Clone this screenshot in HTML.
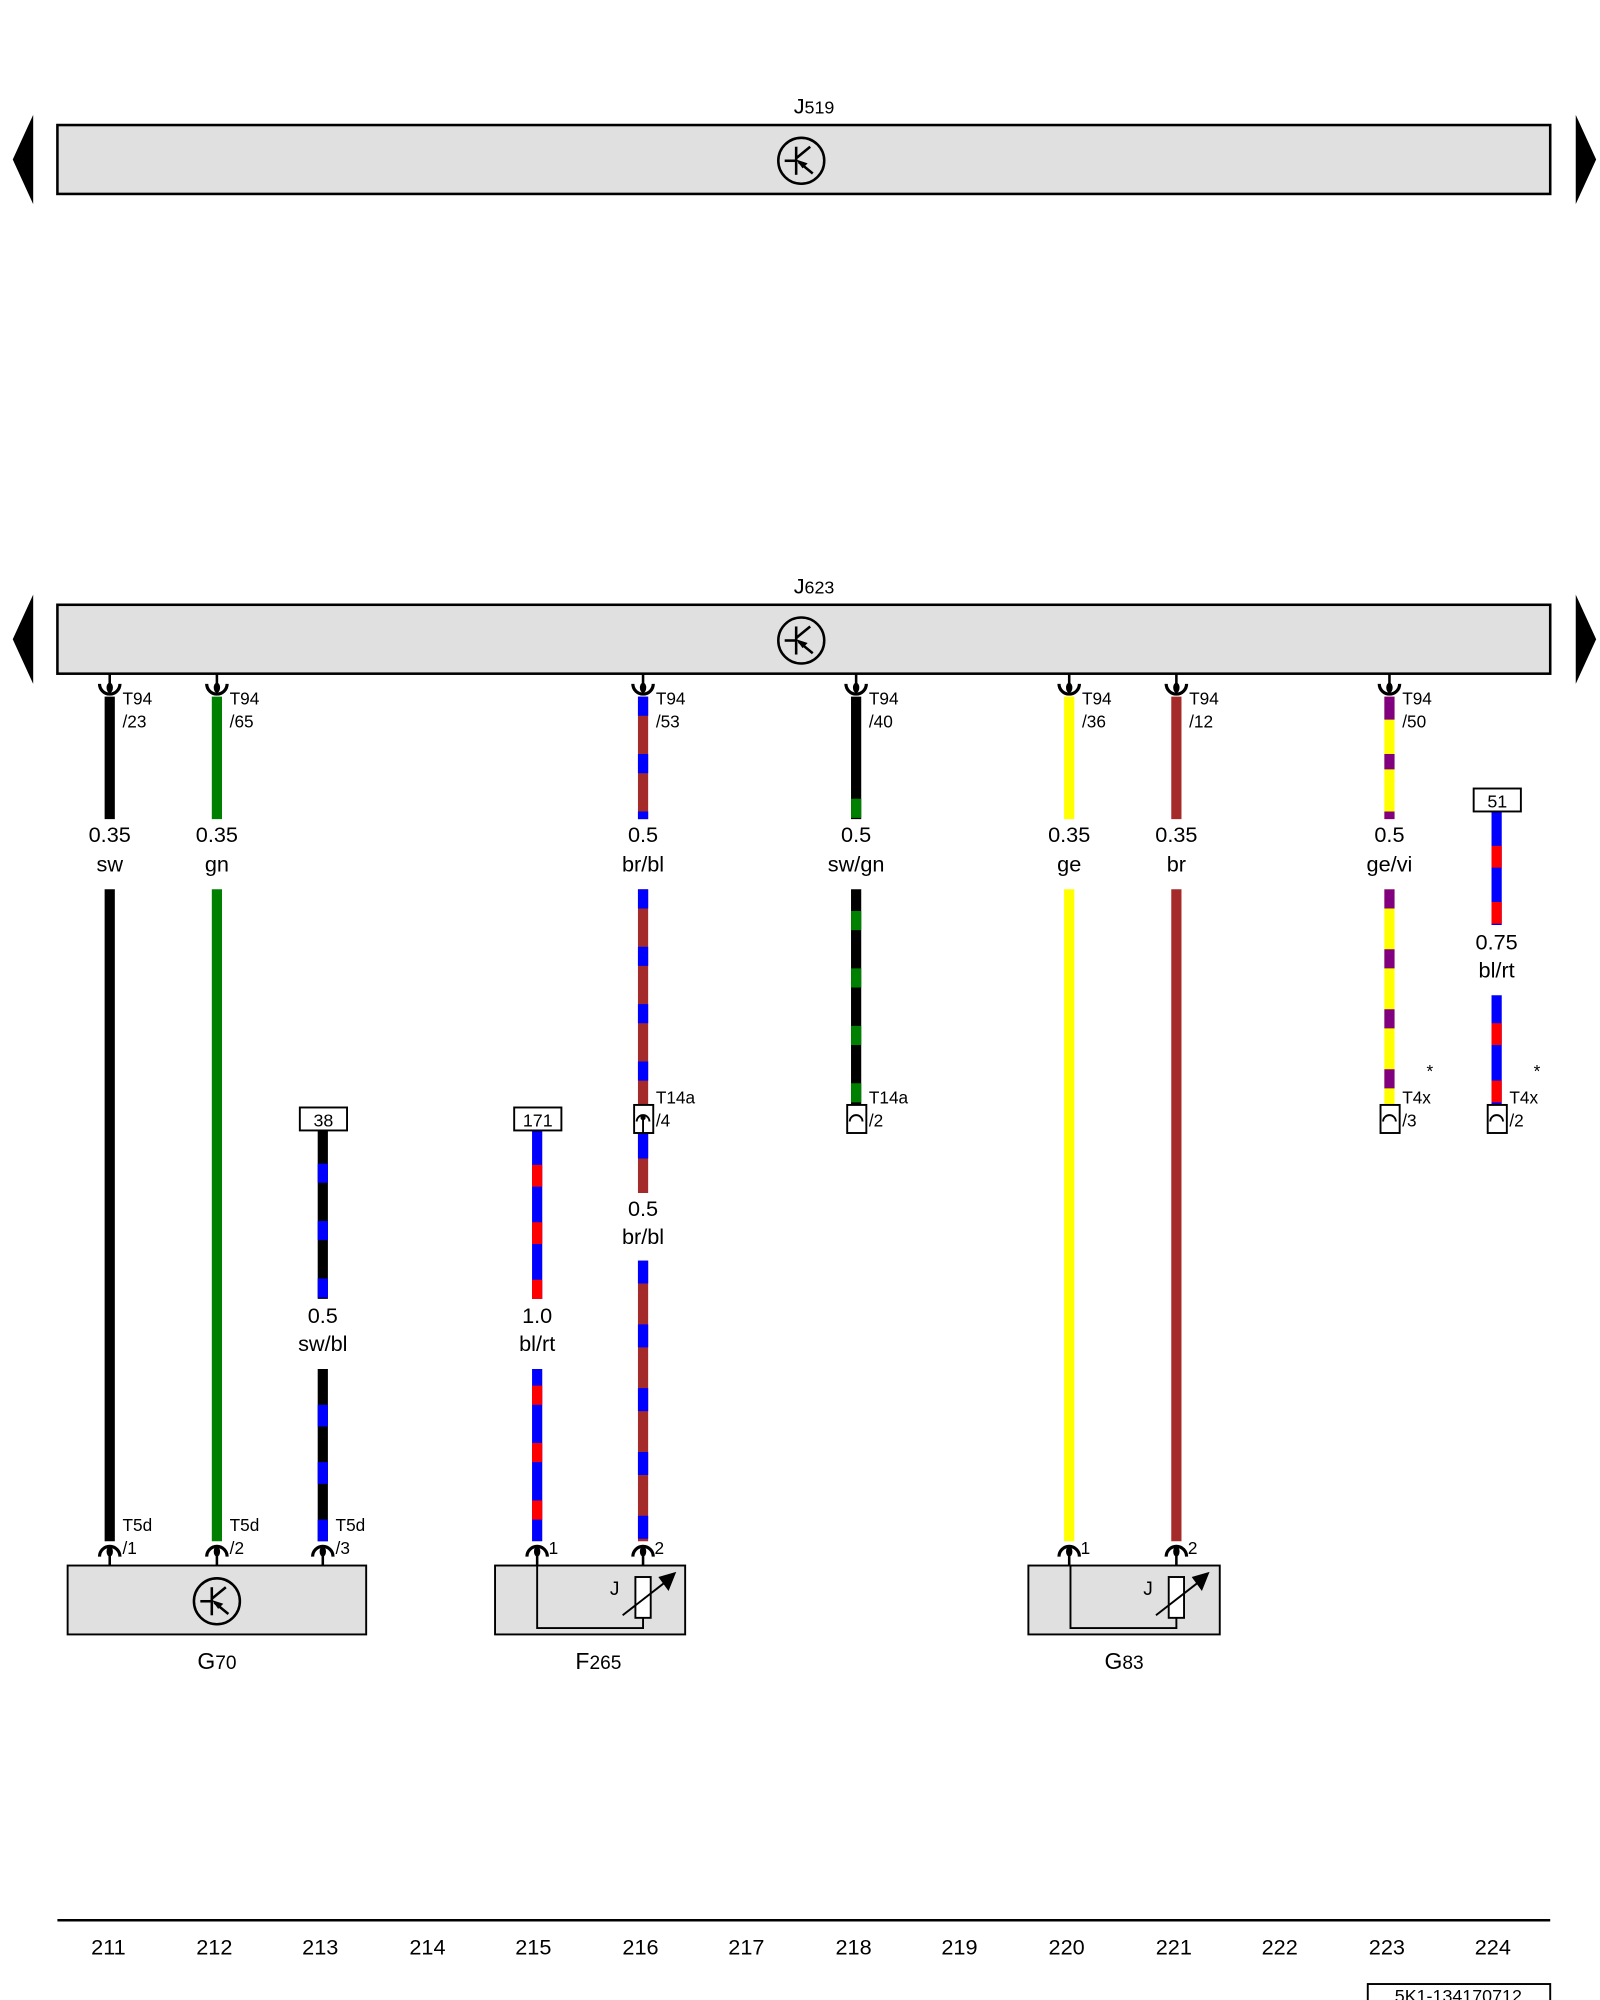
<!DOCTYPE html>
<html><head><meta charset="utf-8"><style>
html,body{margin:0;padding:0;background:#fff;}
svg{display:block;}
text{font-family:"Liberation Sans",sans-serif;fill:#000;}
.c{font-size:13.5px;font-stretch:condensed;}
.w{font-size:17px;text-anchor:middle;}
</style></head><body>
<svg width="1600" height="2000" viewBox="0 0 1600 2000" xmlns="http://www.w3.org/2000/svg">
<defs>
<g id="sym">
<circle cx="0" cy="0" r="18" fill="none" stroke="#000" stroke-width="2"/>
<line x1="-4" y1="-11" x2="-4" y2="11" stroke="#000" stroke-width="2"/>
<line x1="-13" y1="0" x2="-4" y2="0" stroke="#000" stroke-width="2"/>
<line x1="-4" y1="-2" x2="7" y2="-11" stroke="#000" stroke-width="2"/>
<line x1="-2" y1="1" x2="9" y2="10" stroke="#000" stroke-width="2"/>
<polygon points="-4,-1 5,2 1,6" fill="#000"/>
</g>
<g id="ct"><line x1="0" y1="528" x2="0" y2="537" stroke="#000" stroke-width="2"/><ellipse cx="0" cy="539" rx="2.5" ry="4" fill="#000"/><path d="M-8,536 A8,8 0 0 0 8,536" fill="none" stroke="#000" stroke-width="2.5"/></g>
<g id="cb"><line x1="0" y1="1216" x2="0" y2="1227" stroke="#000" stroke-width="2"/><ellipse cx="0" cy="1216" rx="2.5" ry="4" fill="#000"/><path d="M-8,1220 A8,8 0 0 1 8,1220" fill="none" stroke="#000" stroke-width="2.5"/></g>
</defs>
<g transform="scale(1.2759)">
<!-- J519 -->
<text x="638" y="89" style="font-size:17px" text-anchor="middle">J<tspan style="font-size:14px">519</tspan></text>
<rect x="45" y="98" width="1170" height="54" fill="#e0e0e0" stroke="#000" stroke-width="2"/>
<use href="#sym" x="628" y="126"/>
<polygon points="26,90 26,160 10,125" fill="#000"/>
<polygon points="1235,90 1235,160 1251,125" fill="#000"/>
<!-- J623 -->
<text x="638" y="465" style="font-size:17px" text-anchor="middle">J<tspan style="font-size:14px">623</tspan></text>
<rect x="45" y="474" width="1170" height="54" fill="#e0e0e0" stroke="#000" stroke-width="2"/>
<use href="#sym" x="628" y="502"/>
<polygon points="26,466 26,536 10,501" fill="#000"/>
<polygon points="1235,466 1235,536 1251,501" fill="#000"/>

<g stroke-width="8" fill="none">
<!-- 211 sw -->
<line x1="86" y1="546" x2="86" y2="642" stroke="#000"/>
<line x1="86" y1="697" x2="86" y2="1208" stroke="#000"/>
<!-- 212 gn -->
<line x1="170" y1="546" x2="170" y2="642" stroke="#008000"/>
<line x1="170" y1="697" x2="170" y2="1208" stroke="#008000"/>
<!-- 213 sw/bl -->
<line x1="253" y1="886" x2="253" y2="1018" stroke="#000"/>
<line x1="253" y1="886" x2="253" y2="1018" stroke="#0000ff" stroke-dasharray="0 26 15 4"/>
<line x1="253" y1="1073" x2="253" y2="1208" stroke="#000"/>
<line x1="253" y1="1073" x2="253" y2="1208" stroke="#0000ff" stroke-dasharray="0 28 17 0"/>
<!-- 215 bl/rt -->
<line x1="421" y1="886" x2="421" y2="1018" stroke="#0000ff"/>
<line x1="421" y1="886" x2="421" y2="1018" stroke="#ff0000" stroke-dasharray="0 27 17 1"/>
<line x1="421" y1="1073" x2="421" y2="1208" stroke="#0000ff"/>
<line x1="421" y1="1073" x2="421" y2="1208" stroke="#ff0000" stroke-dasharray="0 3 0 0 0 0" />
<line x1="421" y1="1073" x2="421" y2="1208" stroke="#ff0000" stroke-dasharray="0 30 15 0" stroke-dashoffset="-28"/>
<!-- 216 br/bl -->
<line x1="504" y1="546" x2="504" y2="642" stroke="#a52a2a"/>
<line x1="504" y1="546" x2="504" y2="642" stroke="#0000ff" stroke-dasharray="15 30"/>
<line x1="504" y1="697" x2="504" y2="866" stroke="#a52a2a"/>
<line x1="504" y1="697" x2="504" y2="866" stroke="#0000ff" stroke-dasharray="15 30"/>
<line x1="504" y1="888" x2="504" y2="935" stroke="#a52a2a"/>
<line x1="504" y1="888" x2="504" y2="935" stroke="#0000ff" stroke-dasharray="20 40"/>
<line x1="504" y1="988" x2="504" y2="1208" stroke="#a52a2a"/>
<line x1="504" y1="988" x2="504" y2="1208" stroke="#0000ff" stroke-dasharray="18 32"/>
<!-- 218 sw/gn -->
<line x1="671" y1="546" x2="671" y2="642" stroke="#000"/>
<line x1="671" y1="546" x2="671" y2="642" stroke="#008000" stroke-dasharray="0 80 15 0"/>
<line x1="671" y1="697" x2="671" y2="866" stroke="#000"/>
<line x1="671" y1="697" x2="671" y2="866" stroke="#008000" stroke-dasharray="0 17 15 13"/>
<!-- 220 ge -->
<line x1="838" y1="546" x2="838" y2="642" stroke="#ffff00"/>
<line x1="838" y1="697" x2="838" y2="1208" stroke="#ffff00"/>
<!-- 221 br -->
<line x1="922" y1="546" x2="922" y2="642" stroke="#a52a2a"/>
<line x1="922" y1="697" x2="922" y2="1208" stroke="#a52a2a"/>
<!-- 223 ge/vi -->
<line x1="1089" y1="546" x2="1089" y2="642" stroke="#ffff00"/>
<line x1="1089" y1="546" x2="1089" y2="642" stroke="#800080" stroke-dasharray="18 27 12 33 12 100"/>
<line x1="1089" y1="697" x2="1089" y2="866" stroke="#ffff00"/>
<line x1="1089" y1="697" x2="1089" y2="866" stroke="#800080" stroke-dasharray="15 32"/>
<!-- 224 bl/rt -->
<line x1="1173" y1="636" x2="1173" y2="725" stroke="#0000ff"/>
<line x1="1173" y1="636" x2="1173" y2="725" stroke="#ff0000" stroke-dasharray="0 27 17 27 17 0"/>
<line x1="1173" y1="780" x2="1173" y2="866" stroke="#0000ff"/>
<line x1="1173" y1="780" x2="1173" y2="866" stroke="#ff0000" stroke-dasharray="0 22 17 28 17 0"/>
</g>

<!-- top connectors -->
<use href="#ct" x="86"/><use href="#ct" x="170"/><use href="#ct" x="504"/><use href="#ct" x="671"/><use href="#ct" x="838"/><use href="#ct" x="922"/><use href="#ct" x="1089"/>
<g class="c">
<text x="96" y="552">T94</text><text x="96" y="570">/23</text>
<text x="180" y="552">T94</text><text x="180" y="570">/65</text>
<text x="514" y="552">T94</text><text x="514" y="570">/53</text>
<text x="681" y="552">T94</text><text x="681" y="570">/40</text>
<text x="848" y="552">T94</text><text x="848" y="570">/36</text>
<text x="932" y="552">T94</text><text x="932" y="570">/12</text>
<text x="1099" y="552">T94</text><text x="1099" y="570">/50</text>
</g>
<!-- wire labels -->
<g class="w">
<text x="86" y="660">0.35</text><text x="86" y="683">sw</text>
<text x="170" y="660">0.35</text><text x="170" y="683">gn</text>
<text x="504" y="660">0.5</text><text x="504" y="683">br/bl</text>
<text x="671" y="660">0.5</text><text x="671" y="683">sw/gn</text>
<text x="838" y="660">0.35</text><text x="838" y="683">ge</text>
<text x="922" y="660">0.35</text><text x="922" y="683">br</text>
<text x="1089" y="660">0.5</text><text x="1089" y="683">ge/vi</text>
<text x="1173" y="744">0.75</text><text x="1173" y="766">bl/rt</text>
<text x="504" y="953">0.5</text><text x="504" y="975">br/bl</text>
<text x="253" y="1037">0.5</text><text x="253" y="1059">sw/bl</text>
<text x="421" y="1037">1.0</text><text x="421" y="1059">bl/rt</text>
</g>
<!-- ref boxes -->
<g fill="#fff" stroke="#000" stroke-width="1.5">
<rect x="235" y="868" width="37" height="18"/>
<rect x="403" y="868" width="37" height="18"/>
<rect x="1155" y="618" width="37" height="18"/>
</g>
<g class="c" text-anchor="middle" style="font-size:14px">
<text x="253.5" y="883">38</text><text x="421.5" y="883">171</text><text x="1173.5" y="633">51</text>
</g>
<!-- mid connectors -->
<g fill="#fff" stroke="#000" stroke-width="1.5">
<rect x="497" y="866" width="15" height="22"/>
<rect x="664" y="866" width="15" height="22"/>
<rect x="1082" y="866" width="15" height="22"/>
<rect x="1166" y="866" width="15" height="22"/>
</g>
<g fill="none" stroke="#000" stroke-width="1.5">
<path d="M499,879 A5,5 0 0 1 509,879"/><line x1="504" y1="874" x2="504" y2="888"/>
<path d="M666,879 A5,5 0 0 1 676,879"/>
<path d="M1084,879 A5,5 0 0 1 1094,879"/>
<path d="M1168,879 A5,5 0 0 1 1178,879"/>
</g>
<circle cx="504" cy="876" r="2" fill="#000"/>
<g class="c">
<text x="514" y="865">T14a</text><text x="514" y="883">/4</text>
<text x="681" y="865">T14a</text><text x="681" y="883">/2</text>
<text x="1099" y="865">T4x</text><text x="1099" y="883">/3</text>
<text x="1183" y="865">T4x</text><text x="1183" y="883">/2</text>
<text x="1118" y="844">*</text><text x="1202" y="844">*</text>
</g>
<!-- bottom components -->
<rect x="53" y="1227" width="234" height="54" fill="#e0e0e0" stroke="#000" stroke-width="1.5"/>
<use href="#sym" x="170" y="1255"/>
<rect x="388" y="1227" width="149" height="54" fill="#e0e0e0" stroke="#000" stroke-width="1.5"/>
<rect x="806" y="1227" width="150" height="54" fill="#e0e0e0" stroke="#000" stroke-width="1.5"/>
<g fill="none" stroke="#000" stroke-width="1.5">
<path d="M421,1227 V1276 H504 V1268"/>
<rect x="498" y="1236" width="12" height="32" fill="#fff"/>
<line x1="488" y1="1266" x2="524" y2="1238"/>
<path d="M839,1227 V1276 H922 V1268"/>
<rect x="916" y="1236" width="12" height="32" fill="#fff"/>
<line x1="906" y1="1266" x2="942" y2="1238"/>
</g>
<polygon points="530,1232 516,1236 524,1247" fill="#000"/>
<polygon points="948,1232 934,1236 942,1247" fill="#000"/>
<text x="478" y="1250" style="font-size:15px">J</text>
<text x="896" y="1250" style="font-size:15px">J</text>
<use href="#cb" x="86"/><use href="#cb" x="170"/><use href="#cb" x="253"/><use href="#cb" x="421"/><use href="#cb" x="504"/><use href="#cb" x="838"/><use href="#cb" x="922"/>
<g class="c">
<text x="96" y="1200">T5d</text><text x="96" y="1218">/1</text>
<text x="180" y="1200">T5d</text><text x="180" y="1218">/2</text>
<text x="263" y="1200">T5d</text><text x="263" y="1218">/3</text>
<text x="430" y="1218">1</text><text x="513" y="1218">2</text>
<text x="847" y="1218">1</text><text x="931" y="1218">2</text>
</g>
<text x="170" y="1308" text-anchor="middle" style="font-size:18px">G<tspan style="font-size:15px">70</tspan></text>
<text x="469" y="1308" text-anchor="middle" style="font-size:18px">F<tspan style="font-size:15px">265</tspan></text>
<text x="881" y="1308" text-anchor="middle" style="font-size:18px">G<tspan style="font-size:15px">83</tspan></text>
<!-- footer -->
<line x1="45" y1="1505" x2="1215" y2="1505" stroke="#000" stroke-width="2"/>
<g class="w">
<text x="85" y="1532">211</text><text x="168" y="1532">212</text><text x="251" y="1532">213</text><text x="335" y="1532">214</text><text x="418" y="1532">215</text><text x="502" y="1532">216</text><text x="585" y="1532">217</text><text x="669" y="1532">218</text><text x="752" y="1532">219</text><text x="836" y="1532">220</text><text x="920" y="1532">221</text><text x="1003" y="1532">222</text><text x="1087" y="1532">223</text><text x="1170" y="1532">224</text>
</g>
<rect x="1072" y="1555" width="143" height="20" fill="#fff" stroke="#000" stroke-width="1.5"/>
<text x="1143" y="1569" text-anchor="middle" class="c" style="font-size:14px">5K1-134170712</text>
</g>
</svg>
</body></html>
